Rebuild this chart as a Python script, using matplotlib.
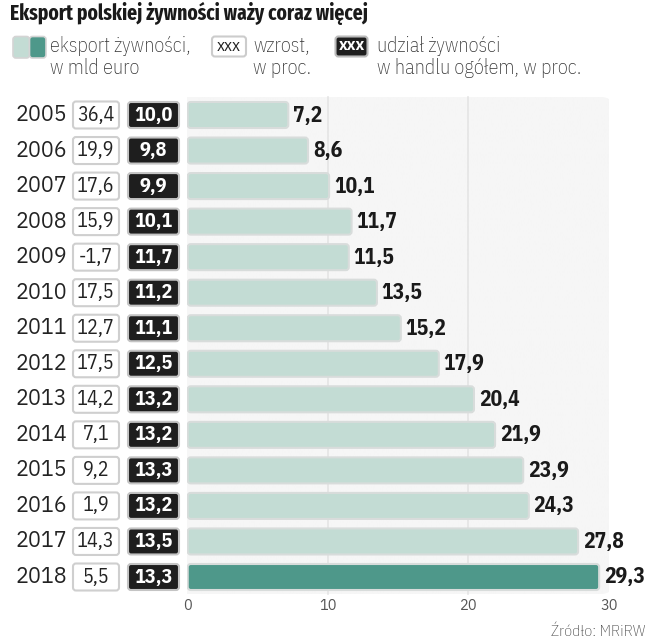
import matplotlib
matplotlib.use('Agg')
import numpy as np
import matplotlib.pyplot as plt
from matplotlib.patches import FancyBboxPatch
from matplotlib.colors import LinearSegmentedColormap

# Dane: eksport polskiej zywnosci
lata = ['2005', '2006', '2007', '2008', '2009', '2010', '2011',
        '2012', '2013', '2014', '2015', '2016', '2017', '2018']
eksport = [7.2, 8.6, 10.1, 11.7, 11.5, 13.5, 15.2,
           17.9, 20.4, 21.9, 23.9, 24.3, 27.8, 29.3]
wzrost = [36.4, 19.9, 17.6, 15.9, -1.7, 17.5, 12.7,
          17.5, 14.2, 7.1, 9.2, 1.9, 14.3, 5.5]
udzial = [10.0, 9.8, 9.9, 10.1, 11.7, 11.2, 11.1,
          12.5, 13.2, 13.2, 13.3, 13.2, 13.5, 13.3]
ticks_x = [0, 10, 20, 30]

JASNY = '#c3dcd4'
CIEMNY = '#4e988a'
CZARNY = '#1e1e1e'
FONT = 'IBM Plex Sans'
FONT_C = 'IBM Plex Sans Condensed'
FONT_T = 'Fira Sans Extra Condensed'

W, H = 649, 640


def fmt(v):
    return f'{v:.1f}'.replace('.', ',')


fig = plt.figure(figsize=(W / 100, H / 100), dpi=100)

# Warstwa w pikselach: tytul, legenda, zrodlo
ov = fig.add_axes([0, 0, 1, 1])
ov.set_xlim(0, W)
ov.set_ylim(H, 0)
ov.axis('off')

tytul = ov.text(10, 13.5, 'Eksport polskiej żywności waży coraz więcej', family=FONT_T,
                weight='bold', fontsize=16, color='#1a1a1a', va='center', ha='left')
# dopasowanie szerokosci tytulu do ok. 358 px
r = fig.canvas.get_renderer()
szer = tytul.get_window_extent(r).width
tytul.set_fontsize(16 * 358 / szer)

# legenda
ov.add_patch(FancyBboxPatch((13, 36.5), 16.5, 21.5, boxstyle='round,pad=0,rounding_size=3',
                            fc=JASNY, ec='#d4d4d4', lw=1.2))
ov.add_patch(FancyBboxPatch((29.5, 36.5), 16.5, 21.5, boxstyle='round,pad=0,rounding_size=3',
                            fc=CIEMNY, ec='#d4d4d4', lw=1.2))
ov.add_patch(FancyBboxPatch((212, 36.5), 34, 20, boxstyle='round,pad=0,rounding_size=3',
                            fc='white', ec='#cccccc', lw=1.5))
ov.text(229, 46, 'xxx', family=FONT_C, fontsize=12.5, ha='center', va='center', color='#222222')
ov.add_patch(FancyBboxPatch((335.5, 36.5), 32, 20, boxstyle='round,pad=0,rounding_size=3',
                            fc=CZARNY, ec='#bbbbbb', lw=1.5))
ov.text(351.5, 46, 'xxx', family=FONT_C, weight='bold', fontsize=12.5, ha='center',
        va='center', color='white')

leg_kw = dict(family=FONT_C, weight='light', fontsize=14.6, color='#333333',
              va='center', ha='left')
for x, l1, l2 in [(50, 'eksport żywności,', 'w mld euro'),
                  (253, 'wzrost,', 'w proc.'),
                  (377, 'udział żywności', 'w handlu ogółem, w proc.')]:
    ov.text(x, 46, l1, **leg_kw)
    ov.text(x, 68, l2, **leg_kw)

ov.text(645, 632, 'Źródło: MRiRW', family=FONT_C, weight='light', fontsize=11.5,
        color='#444444', ha='right', va='center')

# Glowny wykres
x0, x30 = 187, 609
top_row, step = 115, (577 - 115) / 13
y_top = top_row - step / 2
y_bot = 577 + step / 2
ax = fig.add_axes([x0 / W, 1 - y_bot / H, (x30 - x0) / W, (y_bot - y_top) / H])
ax.set_facecolor('none')
n = len(lata)

ux = (x30 - x0) / 30.0          # pikseli na jednostke x
uy = step                      # pikseli na jednostke y
asp = ux / uy                  # dla zaokraglen


def px_x(p):
    return (p - x0) / ux


def px_y(p):
    return -0.5 + (p - y_top) / uy


# tlo z gradientem i zaokraglonym rogiem
p_top, p_bot, p_right = 97, 594, 613
panel = FancyBboxPatch((px_x(0), px_y(p_top)), px_x(p_right) - px_x(0), px_y(p_bot) - px_y(p_top),
                       boxstyle=f'round,pad=0,rounding_size={12 / ux}',
                       mutation_aspect=asp, fc='none', ec='none', clip_on=False, zorder=0)
ax.add_patch(panel)
cmap = LinearSegmentedColormap.from_list('g', [(0, '#ffffff'), (0.2, '#fbfbfb'),
                                               (0.32, '#f6f6f6'), (1, '#f6f6f6')])
grad = np.linspace(0, 1, 256).reshape(1, -1)
im = ax.imshow(grad, cmap=cmap, aspect='auto', zorder=0.1,
               extent=[px_x(0), px_x(p_right), px_y(p_bot), px_y(p_top)])
im.set_clip_path(panel)

# linie siatki
for t in ticks_x[1:3]:
    ax.plot([t, t], [px_y(p_top), px_y(p_bot)], color='#e4e4e4',
            lw=1.2, zorder=0.5, clip_on=False)

bh = 26 / uy
for i in range(n):
    kol = CIEMNY if i == n - 1 else JASNY
    ax.add_patch(FancyBboxPatch((0.05, i - bh / 2), eksport[i] - 0.05, bh,
                                boxstyle=f'round,pad=0,rounding_size={3 / ux}',
                                mutation_aspect=asp, fc=kol, ec='#d8dcdb', lw=1.5, zorder=2))
    ax.annotate(fmt(eksport[i]), (eksport[i], i), xytext=(3.5, 0), textcoords='offset points',
                family=FONT_C, weight='bold', fontsize=15.5, color='#1a1a1a',
                va='center', ha='left', annotation_clip=False)

    # rok
    ax.text(px_x(67), i, lata[i], family=FONT, fontsize=15.5, color='#222222',
            ha='right', va='center', clip_on=False)
    # wzrost - biale pole
    ax.add_patch(FancyBboxPatch((px_x(73), i - 27 / uy / 2), (119 - 73) / ux, 27 / uy,
                                boxstyle=f'round,pad=0,rounding_size={3 / ux}',
                                mutation_aspect=asp, fc='white', ec='#cfcfcf', lw=1.5,
                                clip_on=False, zorder=2))
    ax.text(px_x(96), i, fmt(wzrost[i]), family=FONT_C, fontsize=14.5, color='#222222',
            ha='center', va='center', clip_on=False, zorder=3)
    # udzial - czarne pole
    ax.add_patch(FancyBboxPatch((px_x(128), i - 26 / uy / 2), (179 - 128) / ux, 26 / uy,
                                boxstyle=f'round,pad=0,rounding_size={3 / ux}',
                                mutation_aspect=asp, fc=CZARNY, ec='#c4c4c4', lw=1.5,
                                clip_on=False, zorder=2))
    ax.text(px_x(153.5), i, fmt(udzial[i]), family=FONT_C, weight='bold', fontsize=14.5,
            color='white', ha='center', va='center', clip_on=False, zorder=3)

ax.set_xlim(0, 30)
ax.set_ylim(n - 0.5, -0.5)
ax.set_xticks(ticks_x)
ax.set_xticklabels([str(t) for t in ticks_x], family=FONT, fontweight='light',
                   fontsize=10.5, color='#555555')
ax.tick_params(axis='x', length=0, pad=3)
ax.set_yticks([])
for s in ax.spines.values():
    s.set_visible(False)

fig.savefig('out.png', dpi=100)
